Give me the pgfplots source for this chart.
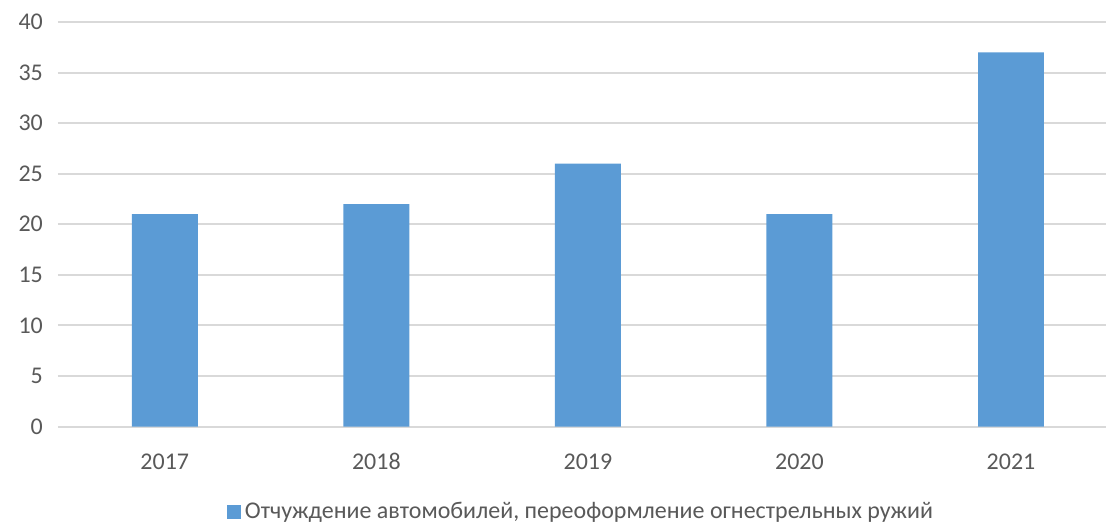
\documentclass[border=0pt]{standalone}
\usepackage{fontspec}
\setmainfont{Carlito}
\usepackage{pgfplots}
\pgfplotsset{compat=1.18}
\definecolor{barblue}{HTML}{5B9BD5}
\definecolor{txtgray}{HTML}{595959}
\definecolor{gridgray}{HTML}{D9D9D9}
\begin{document}
\begin{tikzpicture}
\begin{axis}[
    scale only axis,
    width=524.5pt, height=202.5pt,
    xmin=-0.505, xmax=4.449,
    ymin=0, ymax=40,
    ytick={0,5,...,40},
    xtick={0,1,2,3,4},
    xticklabels={2017,2018,2019,2020,2021},
    axis line style={draw=none},
    major tick length=0pt,
    ymajorgrids,
    grid style={gridgray, line width=1pt},
    tick label style={font=\fontsize{12}{14}\selectfont, text=txtgray},
    /pgf/number format/assume math mode=true,
    yticklabel style={xshift=-4pt},
    xticklabel style={yshift=-10pt, text height=8pt, text depth=0pt},
    legend style={at={(0.5,-0.21)}, anchor=center, draw=none, font=\fontsize{12}{14}\selectfont, text=txtgray, legend cell align=left},
    legend image code/.code={\fill[#1] (0pt,-3.5pt) rectangle (7pt,3.5pt);},
    clip=false,
]
\addplot[ybar, bar width=33pt, fill=barblue, draw=none] coordinates {
    (0,21) (1,22) (2,26) (3,21) (4,37)
};
\addlegendentry{Отчуждение автомобилей, переоформление огнестрельных ружий}
\end{axis}
\useasboundingbox (-29pt,-49pt) rectangle (524.5pt,213.5pt);
\end{tikzpicture}
\end{document}
